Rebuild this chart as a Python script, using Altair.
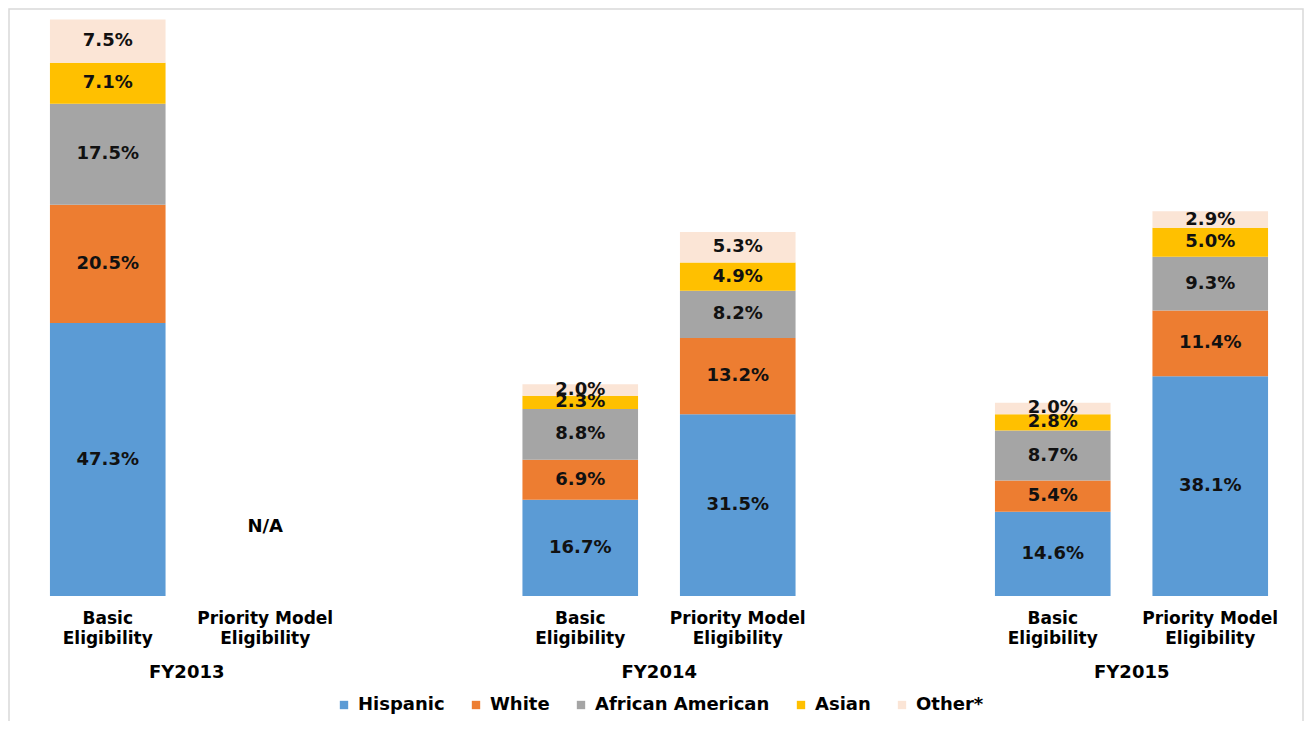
import altair as alt
import pandas as pd

# ---- data ----
slots = ["FY2013|Basic", "FY2013|Priority", "gap1",
         "FY2014|Basic", "FY2014|Priority", "gap2",
         "FY2015|Basic", "FY2015|Priority"]
races = ["Hispanic", "White", "African American", "Asian", "Other*"]
colors = ["#5B9BD5", "#ED7D31", "#A5A5A5", "#FFC000", "#FBE5D6"]

fy2013_basic = [47.3, 20.5, 17.5, 7.1, 7.5]
fy2014_basic = [16.7, 6.9, 8.8, 2.3, 2.0]
fy2014_priority = [31.5, 13.2, 8.2, 4.9, 5.3]
fy2015_basic = [14.6, 5.4, 8.7, 2.8, 2.0]
fy2015_priority = [38.1, 11.4, 9.3, 5.0, 2.9]

bars = {
    "FY2013|Basic": fy2013_basic,
    "FY2014|Basic": fy2014_basic,
    "FY2014|Priority": fy2014_priority,
    "FY2015|Basic": fy2015_basic,
    "FY2015|Priority": fy2015_priority,
}
group_labels = ["FY2013", "FY2014", "FY2015"]
group_anchor = ["FY2013|Basic", "FY2014|Basic", "FY2015|Basic"]
na_slot = ["FY2013|Priority"]

rows = []
for s, vals in bars.items():
    for i, (r, v) in enumerate(zip(races, vals)):
        rows.append({"slot": s, "race": r, "value": v, "order": i})
df = pd.DataFrame(rows)

FONT = "DejaVu Sans"
W, H = 1260, 577

x_scale = alt.Scale(domain=slots, paddingInner=0.266, paddingOuter=0.133)
x_axis = alt.Axis(
    title=None, domain=False, ticks=False, labelAngle=0,
    labelFont=FONT, labelFontSize=17, labelFontWeight="bold", labelColor="#000",
    labelPadding=14, labelLineHeight=20,
    labelExpr="indexof(datum.value, 'Basic') >= 0 ? ['Basic', 'Eligibility'] : "
              "(indexof(datum.value, 'Priority') >= 0 ? ['Priority Model', 'Eligibility'] : '')",
)
y_scale = alt.Scale(domain=[0, 100])

base = alt.Chart(df).transform_stack(
    stack="value", groupby=["slot"], sort=[alt.SortField("order")], as_=["v0", "v1"]
).transform_calculate(
    mid="(datum.v0 + datum.v1) / 2",
    label="format(datum.value, '.1f') + '%'",
)

bar_layer = base.mark_bar().encode(
    x=alt.X("slot:N", scale=x_scale, axis=x_axis, sort=slots),
    y=alt.Y("v0:Q", scale=y_scale, axis=None),
    y2="v1:Q",
    color=alt.Color(
        "race:N",
        scale=alt.Scale(domain=races, range=colors),
        legend=alt.Legend(
            title=None, orient="none", direction="horizontal",
            legendX=306, legendY=677,
            symbolType="square", symbolSize=70, symbolStrokeWidth=0,
            labelFont=FONT, labelFontSize=18, labelFontWeight="bold", labelColor="#000",
            labelLimit=400, columnPadding=22, labelOffset=5,
        ),
    ),
)

text_layer = base.mark_text(
    font=FONT, fontSize=18, fontWeight="bold", color="#111"
).encode(
    x=alt.X("slot:N", scale=x_scale, sort=slots),
    y=alt.Y("mid:Q", scale=y_scale),
    text="label:N",
)

na_df = pd.DataFrame({"slot": na_slot, "txt": ["N/A"]})
na_layer = alt.Chart(na_df).mark_text(
    font=FONT, fontSize=18, fontWeight="bold", color="#000"
).encode(
    x=alt.X("slot:N", scale=x_scale, sort=slots),
    y=alt.value(508),
    text="txt:N",
)

grp_df = pd.DataFrame({"slot": group_anchor, "txt": group_labels})
grp_layer = alt.Chart(grp_df).mark_text(
    font=FONT, fontSize=18, fontWeight="bold", color="#000", dx=79
).encode(
    x=alt.X("slot:N", scale=x_scale, sort=slots),
    y=alt.value(654),
    text="txt:N",
)

frame_layer = alt.Chart(pd.DataFrame({"k": [0]})).mark_rect(
    fill="white", fillOpacity=0, stroke="#D9D9D9", strokeWidth=1.5
).encode(
    x=alt.value(-20), x2=alt.value(1274), y=alt.value(-10), y2=alt.value(703)
)

chart = alt.layer(frame_layer, bar_layer, text_layer, na_layer, grp_layer).properties(
    width=W, height=H,
    autosize=alt.AutoSizeParams(type="none"),
    padding={"left": 21, "top": 11, "right": 15, "bottom": 125},
    background="white",
).configure_view(stroke=None)

chart.save("out.html", embed_options={"renderer": "svg", "actions": False})
